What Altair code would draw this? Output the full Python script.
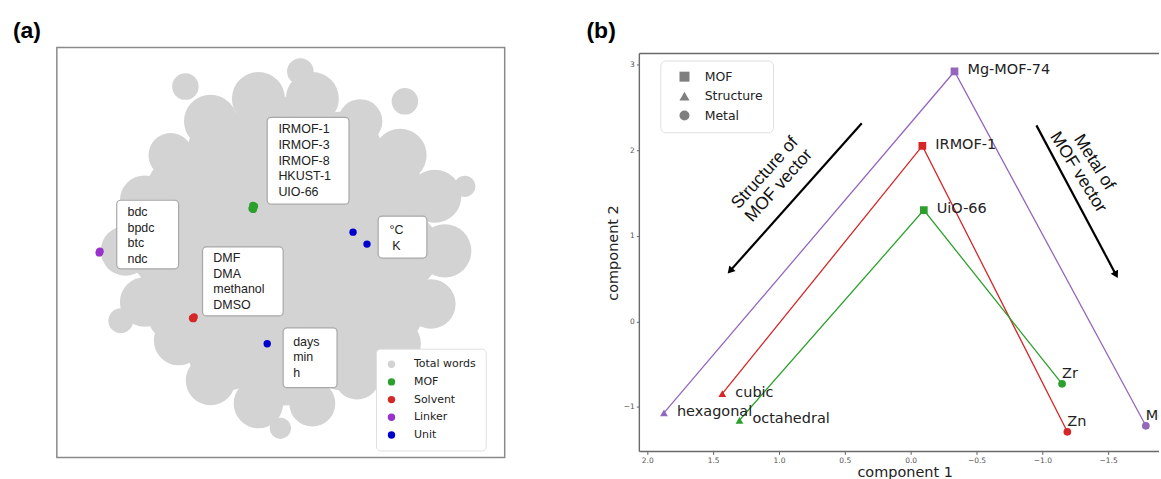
import math
import altair as alt
import pandas as pd

# ---------------- panel (a): t-SNE map of word embeddings ----------------
# grey "Total words" cloud, described as clusters (t-SNE units): centre, spread radius
cloud_x = [1.1,
           29.9, 26.1, 15.4, 1.1, -13.4, -23.9, -27.6, -23.9, -13.4, 1.1, 15.4, 26.1,
           41.1, 38.6, 29.9, 19.9, 7.9, -5.6, -17.6, -27.6, -34.1, -38.9, -34.1, -25.6,
           -17.6, -5.6, 7.9, 19.1, 28.9, 37.6,
           4.9, -23.9, 31.1, 46.1, -0.1, -40.1]
cloud_y = [0.4,
           0.4, 14.9, 25.4, 29.1, 25.4, 14.9, 0.4, -13.9, -24.6, -28.4, -24.6, -13.9,
           0.4, 14.1, 24.4, 32.9, 38.6, 38.6, 32.9, 24.4, 13.1, 0.4, -12.4, -22.1,
           -32.1, -37.9, -37.9, -31.1, -22.9, -12.9,
           45.4, 41.6, 37.9, 16.6, -44.1, -17.1]
cloud_r = [33.75,
           11.25, 11.25, 11.25, 11.25, 11.25, 11.25, 11.25, 11.25, 11.25, 11.25, 11.25, 11.25,
           7.5, 7.5, 7.5, 6.25, 7.5, 7.5, 7.5, 6.25, 7.0, 7.0, 7.0, 7.0,
           7.0, 7.0, 6.5, 6.5, 7.0, 7.0,
           3.75, 3.75, 3.75, 3.0, 3.0, 3.5]

mof_x = [-7.0, -6.8, -7.2, -6.6, -6.9]
mof_y = [11.8, 11.2, 11.0, 11.6, 10.8]
solvent_x = [-21.9, -21.7, -22.1, -21.9]
solvent_y = [-16.4, -16.2, -16.5, -16.6]
linker_x = [-45.4, -45.3, -45.5, -45.4]
linker_y = [0.1, 0.3, -0.1, 0.0]
unit_x = [18.1, 21.6, -3.4]
unit_y = [5.1, 2.1, -22.9]

categories = ["Total words", "MOF", "Solvent", "Linker", "Unit"]
cat_colors = ["#d3d3d3", "#2ca02c", "#d62728", "#9932cc", "#0000cd"]

# annotation boxes (anchor = first text line)
ann_text_left = ["IRMOF-1\nIRMOF-3\nIRMOF-8\nHKUST-1\nUIO-66", "bdc\nbpdc\nbtc\nndc",
                 "DMF\nDMA\nmethanol\nDMSO", "days\nmin\nh"]
ann_left_x = [-0.6, -38.4, -16.9, 3.1]
ann_left_y = [30.9, 10.1, -1.4, -22.4]
ann_text_center = ["°C\nK"]
ann_center_x = [29.0]
ann_center_y = [5.6]
box_x1 = [-3.4, -41.1, -19.6, 24.4, 0.6]
box_x2 = [17.1, -25.6, 0.6, 36.6, 14.1]
box_y1 = [33.9, 13.1, 1.4, 9.1, -18.9]
box_y2 = [12.1, -4.1, -15.9, -1.4, -33.9]

# ---------------- panel (b): PCA of MOF vectors ----------------
pt_name = ["Mg-MOF-74", "IRMOF-1", "UiO-66", "hexagonal", "cubic", "octahedral", "Mg", "Zn", "Zr"]
pt_x = [-0.333, -0.089, -0.10, 1.873, 1.43, 1.30, -1.786, -1.19, -1.15]
pt_y = [2.92, 2.05, 1.30, -1.07, -0.845, -1.156, -1.22, -1.29, -0.73]
pt_kind = ["MOF", "MOF", "MOF", "Structure", "Structure", "Structure", "Metal", "Metal", "Metal"]
pt_series = ["Mg", "Zn", "Zr", "Mg", "Zn", "Zr", "Mg", "Zn", "Zr"]
series_names = ["Mg", "Zn", "Zr"]
series_colors = ["#9467bd", "#d62728", "#2ca02c"]
kinds = ["MOF", "Structure", "Metal"]
kind_shapes = ["square", "triangle-up", "circle"]

arrow_x1 = [0.371, -0.955]
arrow_y1 = [2.315, 2.29]
arrow_x2 = [1.371, -1.56]
arrow_y2 = [0.59, 0.543]
arrow_head_angle = [221.7, 151.9]
arrow_text = ["Structure of\nMOF vector", "Metal of\nMOF vector"]
arrow_text_x = [1.053, -1.333]
arrow_text_y = [1.66, 1.80]
arrow_text_angle = [312, 58]

x_ticks = [2.0, 1.5, 1.0, 0.5, 0.0, -0.5, -1.0, -1.5]
y_ticks = [-1, 0, 1, 2, 3]
xb_domain = [-1.886, 2.06]
yb_domain = [-1.52, 3.13]

# ======================= build panel (a) =======================
WA, HA = 449, 411
XA_DOM = [-56.1, 56.1]
YA_DOM = [-51.4, 51.4]
px_per_unit = WA / (XA_DOM[1] - XA_DOM[0])

cloud_df = pd.DataFrame({
    "tx": cloud_x, "ty": cloud_y,
    "area": [math.pi * (r * px_per_unit) ** 2 for r in cloud_r],
    "cat": ["Total words"] * len(cloud_x),
})
words_df = pd.DataFrame({
    "tx": mof_x + solvent_x + linker_x + unit_x,
    "ty": mof_y + solvent_y + linker_y + unit_y,
    "cat": ["MOF"] * len(mof_x) + ["Solvent"] * len(solvent_x)
           + ["Linker"] * len(linker_x) + ["Unit"] * len(unit_x),
})
box_df = pd.DataFrame({"x1": box_x1, "x2": box_x2, "y1": box_y1, "y2": box_y2})
annl_df = pd.DataFrame({"tx": ann_left_x, "ty": ann_left_y, "t": ann_text_left})
annc_df = pd.DataFrame({"tx": ann_center_x, "ty": ann_center_y, "t": ann_text_center})

xa = alt.Scale(domain=XA_DOM, nice=False, zero=False)
ya = alt.Scale(domain=YA_DOM, nice=False, zero=False)

color_a = alt.Color(
    "cat:N",
    scale=alt.Scale(domain=categories, range=cat_colors),
    legend=alt.Legend(
        title=None, orient="none", legendX=320, legendY=302,
        fillColor="white", strokeColor="#e0e0e0", cornerRadius=4, padding=10,
        labelFont="DejaVu Sans", labelFontSize=11, labelColor="#222",
        symbolType="circle", symbolSize=55, symbolOpacity=1, symbolStrokeWidth=0,
        labelOffset=17, rowPadding=5.75,
    ),
)

cloud = alt.Chart(cloud_df).mark_circle(opacity=1, clip=True).encode(
    x=alt.X("tx:Q", scale=xa, axis=None),
    y=alt.Y("ty:Q", scale=ya, axis=None),
    size=alt.Size("area:Q", scale=None, legend=None),
    color=color_a,
)
words = alt.Chart(words_df).mark_circle(size=55, opacity=1).encode(
    x=alt.X("tx:Q", scale=xa, axis=None),
    y=alt.Y("ty:Q", scale=ya, axis=None),
    color=color_a,
)
boxes = alt.Chart(box_df).mark_rect(
    fill="white", stroke="#a8a8a8", strokeWidth=1.2, cornerRadius=4
).encode(
    x=alt.X("x1:Q", scale=xa, axis=None), x2="x2:Q",
    y=alt.Y("y1:Q", scale=ya, axis=None), y2="y2:Q",
)
text_left = alt.Chart(annl_df).mark_text(
    align="left", baseline="middle", font="Liberation Sans", fontSize=12.5,
    lineHeight=15.7, lineBreak="\n", color="#222",
).encode(
    x=alt.X("tx:Q", scale=xa, axis=None), y=alt.Y("ty:Q", scale=ya, axis=None), text="t:N"
)
text_center = alt.Chart(annc_df).mark_text(
    align="center", baseline="middle", font="Liberation Sans", fontSize=12.5,
    lineHeight=15.7, lineBreak="\n", color="#222",
).encode(
    x=alt.X("tx:Q", scale=xa, axis=None), y=alt.Y("ty:Q", scale=ya, axis=None), text="t:N"
)
label_a = alt.Chart(pd.DataFrame({"lab": ["(a)"]})).mark_text(
    align="left", baseline="top", font="Liberation Sans", fontSize=23, fontWeight="bold",
    color="black",
).encode(x=alt.value(-44), y=alt.value(-28), text="lab:N")

panel_a = alt.layer(cloud, words, boxes, text_left, text_center, label_a).properties(
    width=WA, height=HA, view=alt.ViewBackground(stroke="#8a8a8a", strokeWidth=1.5)
)

# ======================= build panel (b) =======================
WB, HB = 521, 399
order_of = {"Structure": 0, "MOF": 1, "Metal": 2}
pts_df = pd.DataFrame({
    "x": pt_x, "y": pt_y, "name": pt_name, "kind": pt_kind, "series": pt_series,
    "ord": [order_of[k] for k in pt_kind],
})
arrows_df = pd.DataFrame({"x": arrow_x1, "y": arrow_y1, "x2": arrow_x2, "y2": arrow_y2,
                          "ang": arrow_head_angle})
heads_df = pd.DataFrame({"x": arrow_x2, "y": arrow_y2, "ang": arrow_head_angle})
atext_df = pd.DataFrame({"x": arrow_text_x, "y": arrow_text_y, "t": arrow_text,
                         "ang": arrow_text_angle})

xb = alt.Scale(domain=xb_domain, reverse=True, nice=False, zero=False)
yb = alt.Scale(domain=yb_domain, nice=False, zero=False)

axis_common = dict(
    grid=False, domain=False,
    labelFont="DejaVu Sans", labelFontSize=7.5, labelColor="#555",
    tickSize=3, tickColor="#666",
    titleFont="DejaVu Sans", titleFontSize=14.5, titleFontWeight="normal", titleColor="#222",
    labelPadding=2,
)
x_axis = alt.Axis(values=x_ticks, format=".1f", title="component 1", titlePadding=2,
                  titleX=266, **axis_common)
y_axis = alt.Axis(values=y_ticks, format="d", title="component 2", titlePadding=3,
                  **axis_common)


def X(field):
    return alt.X(field, type="quantitative", scale=xb, axis=x_axis)


def Y(field):
    return alt.Y(field, type="quantitative", scale=yb, axis=y_axis)


color_b = alt.Color("series:N", scale=alt.Scale(domain=series_names, range=series_colors),
                    legend=None)

# frame of panel (b) along the axis limits: top, bottom and left edges
# (the right edge lies beyond the figure)
frame_df = pd.DataFrame({
    "edge": ["top", "bottom", "left"],
    "fx1": [xb_domain[1], xb_domain[1], xb_domain[1]],
    "fx2": [xb_domain[0], xb_domain[0], xb_domain[1]],
    "fy1": [yb_domain[1], yb_domain[0], yb_domain[0]],
    "fy2": [yb_domain[1], yb_domain[0], yb_domain[1]],
})
frame = alt.Chart(frame_df).mark_rule(color="#6a6a6a", strokeWidth=1.4).encode(
    x=X("fx1"), x2="fx2:Q", y=Y("fy1"), y2="fy2:Q",
)

lines = alt.Chart(pts_df).mark_line(strokeWidth=1.3, clip=True).encode(
    x=X("x"), y=Y("y"), color=color_b, order=alt.Order("ord:Q"),
)
points = alt.Chart(pts_df).mark_point(filled=True, size=60, opacity=1, clip=True).encode(
    x=X("x"), y=Y("y"),
    color=color_b,
    shape=alt.Shape(
        "kind:N",
        scale=alt.Scale(domain=kinds, range=kind_shapes),
        legend=alt.Legend(
            title=None, orient="none", legendX=21, legendY=7,
            fillColor="white", strokeColor="#e0e0e0", cornerRadius=5, padding=10,
            labelFont="DejaVu Sans", labelFontSize=12.5, labelColor="#222",
            symbolSize=100, symbolFillColor="#7f7f7f", symbolStrokeColor="#7f7f7f",
            symbolStrokeWidth=0, symbolOffset=8, labelOffset=14, rowPadding=6.5,
        ),
    ),
)
labels_side = alt.Chart(pts_df).transform_filter(
    alt.datum.kind != "Metal"
).mark_text(
    align="left", baseline="middle", dx=13, dy=-1, font="DejaVu Sans", fontSize=14.5,
    color="#222", clip=True,
).encode(x=X("x"), y=Y("y"), text="name:N")
labels_top = alt.Chart(pts_df).transform_filter(
    alt.datum.kind == "Metal"
).mark_text(
    align="left", baseline="middle", dx=0, dy=-10, font="DejaVu Sans", fontSize=14.5,
    color="#222", clip=True,
).encode(x=X("x"), y=Y("y"), text="name:N")
arrow_shaft = alt.Chart(arrows_df).mark_rule(color="black", strokeWidth=2.2).encode(
    x=X("x"), y=Y("y"), x2="x2:Q", y2="y2:Q",
)
arrow_head = alt.Chart(heads_df).mark_point(
    shape="triangle-up", filled=True, size=70, color="black", opacity=1
).encode(
    x=X("x"), y=Y("y"), angle=alt.Angle("ang:Q", scale=None),
)
arrow_labels = alt.Chart(atext_df).mark_text(
    align="center", baseline="middle", font="Liberation Sans", fontSize=17.5,
    lineHeight=19, lineBreak="\n", color="#111", dy=-9.5,
).encode(
    x=X("x"), y=Y("y"), text="t:N", angle=alt.Angle("ang:Q", scale=None),
)
label_b = alt.Chart(pd.DataFrame({"lab": ["(b)"]})).mark_text(
    align="left", baseline="top", font="Liberation Sans", fontSize=23, fontWeight="bold",
    color="black",
).encode(x=alt.value(-53), y=alt.value(-34), text="lab:N")

panel_b = alt.layer(
    lines, points, labels_side, labels_top,
    arrow_shaft, arrow_head, arrow_labels, label_b, frame
).properties(
    width=WB, height=HB, view=alt.ViewBackground(stroke="transparent")
)

chart = alt.hconcat(
    panel_a, panel_b, spacing=135, bounds="flush", center=True
).resolve_scale(
    x="independent", y="independent", color="independent", shape="independent",
    size="independent", angle="independent",
).resolve_legend(
    color="independent", shape="independent"
).properties(
    padding={"left": 12, "top": 18, "right": 0, "bottom": 0}, background="white"
)

chart.save("out.html", embed_options={"renderer": "svg", "actions": False})
